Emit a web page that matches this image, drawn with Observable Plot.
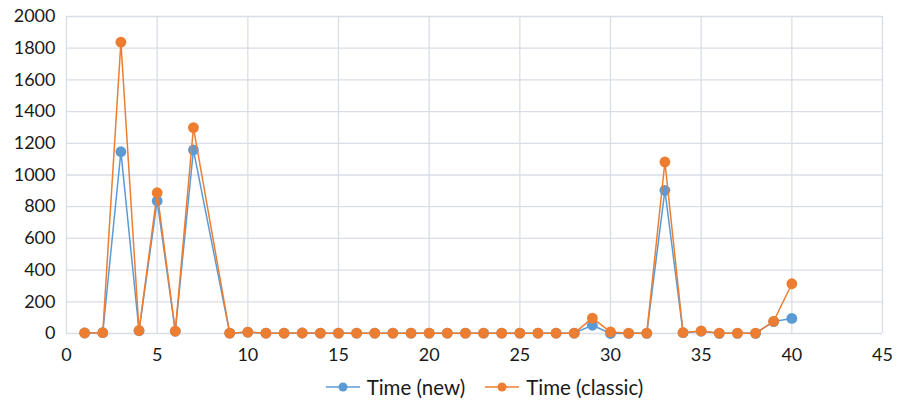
<!DOCTYPE html>
<html>
<head>
<meta charset="utf-8">
<script src="https://cdn.jsdelivr.net/npm/d3@7"></script>
<script src="https://cdn.jsdelivr.net/npm/@observablehq/plot@0.6"></script>
<style>
  html, body { margin: 0; padding: 0; background: #fff; }
  #chart { width: 898px; }
  .legend {
    display: flex; justify-content: center; align-items: center;
    height: 34px; font-family: Lato, "Open Sans", sans-serif; font-size: 20.5px; color: #1a1a1a;
    padding-left: 71px;
  }
  .legend .item { display: flex; align-items: center; margin: 0 10px; }
  .legend svg { margin-right: 7px; }
</style>
</head>
<body>
<div id="chart"></div>
<script>
// Run index (x) and measured times for each variant
const runs = [1, 2, 3, 4, 5, 6, 7, 9, 10, 11, 12, 13, 14, 15, 16, 17, 18, 19, 20, 21, 22, 23, 24, 25, 26, 27, 28, 29, 30, 31, 32, 33, 34, 35, 36, 37, 38, 39, 40];
const timeNew = [3, 5, 1147, 17, 836, 14, 1158, 2, 8, 2, 2, 3, 2, 2, 2, 2, 2, 2, 2, 2, 2, 2, 2, 2, 2, 2, 2, 52, 0, 1, 1, 903, 5, 14, 1, 1, 1, 75, 95];
const timeClassic = [3, 5, 1838, 19, 888, 15, 1299, 2, 9, 2, 2, 3, 2, 2, 2, 2, 2, 2, 2, 2, 2, 2, 2, 2, 2, 2, 2, 97, 10, 2, 2, 1082, 6, 16, 2, 2, 2, 77, 314];

const seriesNames = ["Time (new)", "Time (classic)"];
const seriesColors = ["#5B9BD5", "#ED7D31"];
const xTicks = d3.range(0, 46, 5);
const yTicks = d3.range(0, 2001, 200);

const rowsNew = runs.map((x, i) => ({x, y: timeNew[i]}));
const rowsClassic = runs.map((x, i) => ({x, y: timeClassic[i]}));

const gridColor = "#d9dde6";

const chart = Plot.plot({
  width: 898,
  height: 370,
  marginTop: 16,
  marginBottom: 37,
  marginLeft: 66,
  marginRight: 16,
  style: {fontFamily: "Lato, 'Open Sans', sans-serif", fontSize: "18px", color: "#1a1a1a", background: "#fff"},
  x: {domain: [0, 45], label: null},
  y: {domain: [0, 2000], label: null},
  marks: [
    Plot.gridX(xTicks, {stroke: gridColor, strokeOpacity: 1, strokeWidth: 1.3}),
    Plot.gridY(yTicks, {stroke: gridColor, strokeOpacity: 1, strokeWidth: 1.3}),
    Plot.axisX({ticks: xTicks, tickSize: 0, tickPadding: 15, fontSize: 18, tickFormat: d => String(d)}),
    Plot.axisY({ticks: yTicks, tickSize: 0, tickPadding: 11, fontSize: 18, tickFormat: d => String(d)}),
    Plot.line(rowsNew, {x: "x", y: "y", stroke: seriesColors[0], strokeWidth: 1.5}),
    Plot.dot(rowsNew, {x: "x", y: "y", fill: seriesColors[0], r: 5.4}),
    Plot.line(rowsClassic, {x: "x", y: "y", stroke: seriesColors[1], strokeWidth: 1.5}),
    Plot.dot(rowsClassic, {x: "x", y: "y", fill: seriesColors[1], r: 5.4})
  ]
});
document.getElementById("chart").appendChild(chart);

// Legend below the plot
const legend = document.createElement("div");
legend.className = "legend";
seriesNames.forEach((name, i) => {
  const item = document.createElement("div");
  item.className = "item";
  item.innerHTML = `<svg width="34" height="12"><line x1="0" y1="6" x2="34" y2="6" stroke="${seriesColors[i]}" stroke-width="1.5"/><circle cx="17" cy="6" r="4.5" fill="${seriesColors[i]}"/></svg><span>${name}</span>`;
  legend.appendChild(item);
});
document.getElementById("chart").appendChild(legend);
</script>
</body>
</html>
